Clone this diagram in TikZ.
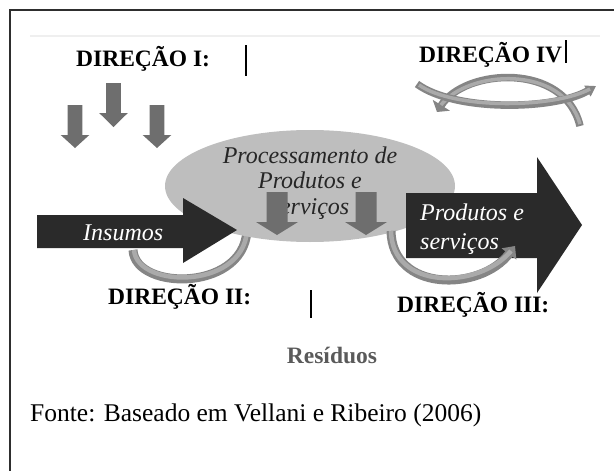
\documentclass[tikz,border=0pt]{standalone}
\usepackage{fontspec}
\setmainfont{Liberation Serif}
\usetikzlibrary{arrows.meta}
\definecolor{darkarrow}{HTML}{2A2A2A}
\definecolor{midarrow}{HTML}{6E6E6E}
\definecolor{ellfill}{HTML}{BEBEBE}
\definecolor{ribbon}{HTML}{858585}
\definecolor{ribbonlight}{HTML}{AAAAAA}
\definecolor{framec}{HTML}{2E2E2E}
\definecolor{resid}{HTML}{5A5A5A}
\definecolor{faint}{HTML}{EFEFEF}
\newcommand\myvarrow[7]{\fill[#1] ({#2-#3},#4) -- ({#2+#3},#4) -- ({#2+#3},#5) -- ({#2+#7},#5) -- (#2,#6) -- ({#2-#7},#5) -- ({#2-#3},#5) -- cycle;}
\newcommand\myharrow[9]{\fill[#1] (#2,#3) -- (#5,#3) -- (#5,#6) -- (#8,#9) -- (#5,#7) -- (#5,#4) -- (#2,#4) -- cycle;}
\begin{document}
\begin{tikzpicture}[x=1pt,y=-1pt,
  dirlbl/.style={font=\fontsize{23.5}{25}\selectfont\bfseries, inner sep=0, anchor=base west},
  elltxt/.style={font=\fontsize{24}{25}\selectfont\itshape, text=black!85, inner sep=0, anchor=base},
  whitetxt/.style={font=\fontsize{24}{25}\selectfont\itshape, text=white, inner sep=0, anchor=base west},
  rib/.style={draw=ribbon, line width=9pt},
  ribin/.style={draw=ribbonlight, line width=4.5pt},
  ribthin/.style={draw=ribbon, line width=7.5pt},
  ribthinin/.style={draw=ribbonlight, line width=3.5pt},
  bar/.style={draw=black, line width=1.3pt}]
\useasboundingbox (0,0) rectangle (614,471);
% frame
\draw[framec, line width=2pt] (9.5,471) -- (9.5,9.5) -- (614,9.5);
\draw[faint, line width=1.5pt] (30,36) -- (600,36);
% direction labels
\node[dirlbl] (d1) at (76,66) {DIREÇÃO I:};
\draw[bar] (246,45) -- (246,76);
\node[dirlbl] (d4) at (419,62) {DIREÇÃO IV};
\draw[bar] (566,40) -- (566,63);
% three small arrows
\myvarrow{midarrow}{75}{7.3}{105}{135}{148}{14.3}
\myvarrow{midarrow}{113.5}{7.3}{83}{113}{127}{14.3}
\myvarrow{midarrow}{157}{7.3}{105}{135}{148}{14.3}
% direction IV ribbons
\draw[ribthin, {Triangle[width=20pt,length=8pt]}-] (437,112) .. controls (465,68) and (565,62) .. (580,126);
\draw[ribthinin] (441,105) .. controls (468,70) and (563,64) .. (580,124);
\draw[ribthin, -{Triangle[width=12pt,length=10pt]}] (417,84) .. controls (455,112) and (555,110) .. (596,86);
\draw[ribthinin] (419,85) .. controls (455,110) and (555,108) .. (590,89);
% ribbon II (behind ellipse)
\draw[rib] (247,225) .. controls (250,292) and (135,292) .. (133,250);
\draw[ribin] (247,225) .. controls (250,290) and (137,290) .. (134,250);
% ellipse
\fill[ellfill] (310,186) ellipse [x radius=145, y radius=56];
\node[elltxt] (p1) at (310,163) {Processamento de};
\node[elltxt] (p2) at (310,188.5) {Produtos e};
\node[elltxt] (p3) at (310,214) {serviços};
\myvarrow{midarrow}{277}{10.5}{192}{222}{235}{21}
\myvarrow{midarrow}{366}{10.5}{192}{222}{235}{21}
% Insumos arrow
\myharrow{darkarrow}{37}{215}{248}{183}{198}{263}{237}{230}
\node[whitetxt] (ins) at (83,240) {Insumos};
% products arrow
\myharrow{darkarrow}{406}{193}{258}{537}{157}{293}{582}{225}
\node[whitetxt] (ps1) at (420,220) {Produtos e};
\node[whitetxt] (ps2) at (420,249) {serviços};
% ribbon III
\draw[rib, -{Triangle[width=18pt,length=10pt]}] (391,231) .. controls (392,292) and (480,292) .. (515,246);
\draw[ribin] (391,231) .. controls (392,290) and (478,290) .. (511,251);
% lower labels
\node[dirlbl] (d2) at (108,304) {DIREÇÃO II:};
\draw[bar] (311,290) -- (311,318);
\node[dirlbl] (d3) at (397,312) {DIREÇÃO III:};
\node[font=\fontsize{23.5}{25}\selectfont\bfseries, text=resid, inner sep=0, anchor=base] (res) at (332,363) {Resíduos};
\node[font=\fontsize{25.5}{27}\selectfont, inner sep=0, anchor=base west] (src) at (30,421) {Fonte: Baseado em Vellani e Ribeiro (2006)};
\end{tikzpicture}
\end{document}
